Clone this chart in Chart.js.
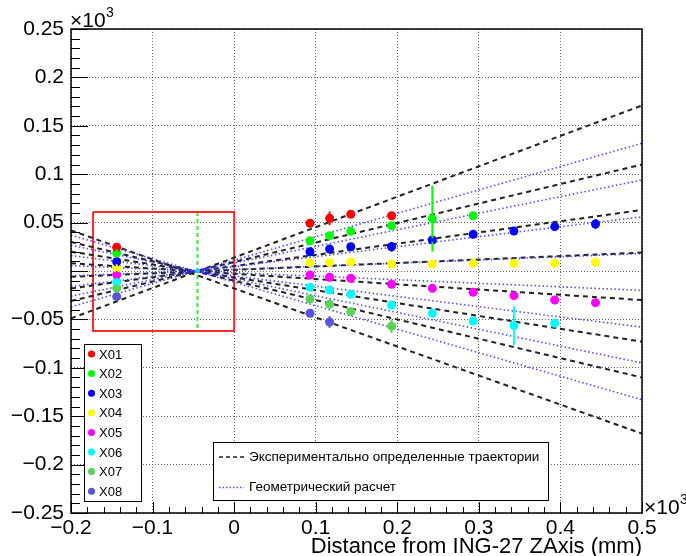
<!DOCTYPE html>
<html>
<head>
<meta charset="utf-8">
<script src="https://cdn.jsdelivr.net/npm/chart.js@4.4.1/dist/chart.umd.min.js"></script>
<style>
  html, body { margin: 0; background: #fff; }
  #wrap { width: 686px; height: 556px; }
</style>
</head>
<body>
<div id="wrap"><canvas id="chart"></canvas></div>
<script>
// --- data (y in units of x10^3 mm) ---
const xTicks = [-0.2, -0.1, 0, 0.1, 0.2, 0.3, 0.4, 0.5];
const xTickLabels = ['\u22120.2', '\u22120.1', '0', '0.1', '0.2', '0.3', '0.4', '0.5'];
const yTicks = [-0.25, -0.2, -0.15, -0.1, -0.05, 0, 0.05, 0.1, 0.15, 0.2, 0.25];
const yTickLabels = ['\u22120.25', '\u22120.2', '\u22120.15', '\u22120.1', '\u22120.05', '', '0.05', '0.1', '0.15', '0.2', '0.25'];

const detNames  = ['X01', 'X02', 'X03', 'X04', 'X05', 'X06', 'X07', 'X08'];
const detColors = ['#ff0000', '#00ff00', '#0000ff', '#ffff00', '#ff00ff', '#00ffff', '#59d454', '#5954d9'];

// measurement positions along the axis
const colX = [-0.144, 0.093, 0.117, 0.143, 0.193, 0.243, 0.293, 0.343, 0.393, 0.443];

const x01 = [0.0245, 0.0493, 0.0544, 0.0586, 0.0571, null, null, null, null, null];
const x02 = [0.0186, 0.0313, 0.0365, 0.0410, 0.0468, 0.0540, 0.0571, null, null, null];
const x03 = [0.0096, 0.0199, 0.0227, 0.0251, 0.0251, 0.0320, 0.0379, 0.0413, 0.0458, 0.0486];
const x04 = [0.0030, 0.0086, 0.0086, 0.0093, 0.0072, 0.0072, 0.0079, 0.0079, 0.0079, 0.0090];
const x05 = [-0.0040, -0.0041, -0.0065, -0.0075, -0.0137, -0.0179, -0.0220, -0.0255, -0.0300, -0.0327];
const x06 = [-0.0110, -0.0169, -0.0196, -0.0241, -0.0351, -0.0437, -0.0517, -0.0565, -0.0540, null];
const x07 = [-0.0176, -0.0289, -0.0344, -0.0420, -0.0570, null, null, null, null, null];
const x08 = [-0.0265, -0.0437, -0.0527, null, null, null, null, null, null, null];

const x01Err = [0.004, 0.004, 0.007, 0.002, 0.002, 0, 0, 0, 0, 0];
const x02Err = [0.004, 0.002, 0.002, 0.002, 0.002, 0.034, 0.002, 0, 0, 0];
const x03Err = [0.004, 0.002, 0.002, 0.002, 0.005, 0.002, 0.002, 0.002, 0.002, 0.005];
const x04Err = [0.004, 0.002, 0.002, 0.002, 0.002, 0.002, 0.002, 0.002, 0.002, 0.002];
const x05Err = [0.004, 0.002, 0.002, 0.002, 0.002, 0.002, 0.002, 0.002, 0.002, 0.003];
const x06Err = [0.004, 0.002, 0.002, 0.002, 0.002, 0.002, 0.002, 0.020, 0.002, 0];
const x07Err = [0.004, 0.002, 0.002, 0.002, 0.007, 0, 0, 0, 0, 0];
const x08Err = [0.004, 0.003, 0.006, 0, 0, 0, 0, 0, 0, 0];

// trajectory end points at x = -0.2 and x = 0.5
const lineX = [-0.2, 0.5];
const expLeft  = [-0.049, -0.031, -0.018, -0.006, 0.008, 0.020, 0.030, 0.042];
const expRight = [0.171, 0.110, 0.063, 0.019, -0.030, -0.073, -0.110, -0.168];
const geoLeft  = [-0.037, -0.026, -0.016, -0.005, 0.0056, 0.016, 0.0266, 0.037];
const geoRight = [0.132, 0.094, 0.056, 0.018, -0.020, -0.058, -0.095, -0.133];

// focus region
const boxX = [-0.173, 0, 0, -0.173, -0.173];
const boxY = [0.061, 0.061, -0.062, -0.062, 0.061];
const focusX = [-0.045, -0.045];
const focusY = [0.061, -0.062];

const legendLabels = ['\u042d\u043a\u0441\u043f\u0435\u0440\u0438\u043c\u0435\u043d\u0442\u0430\u043b\u044c\u043d\u043e \u043e\u043f\u0440\u0435\u0434\u0435\u043b\u0435\u043d\u043d\u044b\u0435 \u0442\u0440\u0430\u0435\u043a\u0442\u043e\u0440\u0438\u0438',
                      '\u0413\u0435\u043e\u043c\u0435\u0442\u0440\u0438\u0447\u0435\u0441\u043a\u0438\u0439 \u0440\u0430\u0441\u0447\u0435\u0442'];
const xTitle = 'Distance from ING-27 ZAxis (mm)';

// --- build datasets ---
const FONT = '"Liberation Sans", Arial, Helvetica, sans-serif';
const detY = [x01, x02, x03, x04, x05, x06, x07, x08];
const detErr = [x01Err, x02Err, x03Err, x04Err, x05Err, x06Err, x07Err, x08Err];

const datasets = [];

detNames.forEach((name, d) => {
  const pts = [];
  const errs = [];
  colX.forEach((x, i) => {
    if (detY[d][i] === null) return;
    pts.push({ x, y: detY[d][i] });
    errs.push(detErr[d][i]);
  });
  datasets.push({
    label: name, data: pts, errs, showLine: false,
    pointRadius: 4.5, pointHoverRadius: 4.5, pointBorderWidth: 0,
    backgroundColor: detColors[d], borderColor: detColors[d], order: 0
  });
});

// small point at the focus
datasets.push({
  label: 'focus', data: [{ x: -0.045, y: 0 }], showLine: false,
  pointRadius: 2.5, pointBorderWidth: 0, backgroundColor: '#22ccee', order: 0
});

expLeft.forEach((yl, i) => {
  datasets.push({
    label: 'exp' + i, data: [{ x: lineX[0], y: yl }, { x: lineX[1], y: expRight[i] }],
    showLine: true, pointRadius: 0, borderColor: '#222', borderWidth: 2,
    borderDash: [5, 4], order: 2
  });
});
geoLeft.forEach((yl, i) => {
  datasets.push({
    label: 'geo' + i, data: [{ x: lineX[0], y: yl }, { x: lineX[1], y: geoRight[i] }],
    showLine: true, pointRadius: 0, borderColor: 'rgba(50,50,255,0.85)', borderWidth: 1.6,
    borderDash: [1.5, 2.5], order: 1
  });
});

datasets.push({
  label: 'box', data: boxX.map((x, i) => ({ x, y: boxY[i] })),
  showLine: true, pointRadius: 0, borderColor: '#ff2a2a', borderWidth: 2, order: 3
});
datasets.push({
  label: 'focusLine', data: focusX.map((x, i) => ({ x, y: focusY[i] })),
  showLine: true, pointRadius: 0, borderColor: '#33ee33', borderWidth: 2,
  borderDash: [4, 3], order: 3
});

// --- plugins: error bars, ROOT-like frame, ticks, legends ---
const errorBars = {
  id: 'errorBars',
  afterDatasetsDraw(chart) {
    const { ctx, scales: { x, y } } = chart;
    ctx.save();
    chart.data.datasets.forEach(ds => {
      if (!ds.errs) return;
      ctx.strokeStyle = ds.backgroundColor;
      ctx.lineWidth = 2;
      ds.data.forEach((p, i) => {
        const e = ds.errs[i];
        if (!e) return;
        const px = x.getPixelForValue(p.x);
        ctx.beginPath();
        ctx.moveTo(px, y.getPixelForValue(p.y - e));
        ctx.lineTo(px, y.getPixelForValue(p.y + e));
        ctx.stroke();
      });
    });
    ctx.restore();
  }
};

const rootFrame = {
  id: 'rootFrame',
  afterDraw(chart) {
    const { ctx, chartArea: a, scales: { x, y } } = chart;
    ctx.save();
    // frame
    ctx.strokeStyle = '#000';
    ctx.lineWidth = 1.5;
    ctx.strokeRect(a.left, a.top, a.right - a.left, a.bottom - a.top);

    // inner ticks
    ctx.lineWidth = 1;
    ctx.beginPath();
    for (let k = 0; k <= 50; k++) {
      const v = -0.25 + k * 0.01;
      const py = Math.round(y.getPixelForValue(v)) + 0.5;
      const len = k % 5 === 0 ? 17 : 9;
      ctx.moveTo(a.left, py);
      ctx.lineTo(a.left + len, py);
    }
    for (let k = 0; k <= 35; k++) {
      const v = -0.2 + k * 0.02;
      const px = Math.round(x.getPixelForValue(v)) + 0.5;
      const len = k % 5 === 0 ? 11 : 6;
      ctx.moveTo(px, a.bottom);
      ctx.lineTo(px, a.bottom - len);
    }
    ctx.stroke();

    // x10^3 labels
    ctx.fillStyle = '#000';
    ctx.textBaseline = 'alphabetic';
    ctx.textAlign = 'left';
    ctx.font = '21px ' + FONT;
    ctx.fillText('\u00d710', a.left - 1, 27);
    ctx.font = '14px ' + FONT;
    ctx.fillText('3', a.left + 35, 17);
    ctx.font = '21px ' + FONT;
    ctx.fillText('\u00d710', a.right + 2, 514);
    ctx.font = '14px ' + FONT;
    ctx.fillText('3', a.right + 38, 504);

    // detector legend
    ctx.fillStyle = '#fff';
    ctx.fillRect(84, 344, 58, 158);
    ctx.strokeStyle = '#000';
    ctx.lineWidth = 1;
    ctx.strokeRect(84.5, 344.5, 57, 157);
    ctx.font = '13px ' + FONT;
    ctx.textBaseline = 'middle';
    detNames.forEach((name, i) => {
      const cy = 354 + i * 19.6;
      ctx.fillStyle = detColors[i];
      ctx.beginPath();
      ctx.arc(91.5, cy, 3.5, 0, Math.PI * 2);
      ctx.fill();
      ctx.fillStyle = '#000';
      ctx.fillText(name, 99, cy + 1);
    });

    // line legend
    ctx.fillStyle = '#fff';
    ctx.fillRect(213, 442, 336, 59);
    ctx.strokeStyle = '#000';
    ctx.strokeRect(213.5, 442.5, 335, 58);
    ctx.lineWidth = 1.6;
    ctx.strokeStyle = '#222';
    ctx.setLineDash([4, 3]);
    ctx.beginPath(); ctx.moveTo(219, 457); ctx.lineTo(244, 457); ctx.stroke();
    ctx.strokeStyle = 'rgba(50,50,255,0.85)';
    ctx.setLineDash([1.5, 2]);
    ctx.beginPath(); ctx.moveTo(219, 487.5); ctx.lineTo(244, 487.5); ctx.stroke();
    ctx.setLineDash([]);
    ctx.fillStyle = '#000';
    ctx.font = '13.5px ' + FONT;
    ctx.fillText(legendLabels[0], 249, 457);
    ctx.fillText(legendLabels[1], 249, 487.5);
    ctx.restore();
  }
};

new Chart(document.getElementById('chart'), {
  type: 'scatter',
  data: { datasets },
  options: {
    responsive: true,
    maintainAspectRatio: false,
    animation: false,
    layout: { padding: { left: 0, right: 44, top: 29, bottom: 0 } },
    plugins: { legend: { display: false }, tooltip: { enabled: false } },
    scales: {
      x: {
        type: 'linear', min: -0.2, max: 0.5,
        afterFit: s => { s.height = 43; },
        afterBuildTicks: s => { s.ticks = xTicks.map(v => ({ value: v })); },
        ticks: {
          padding: 5, color: '#000', font: { family: FONT, size: 21, lineHeight: 1 },
          maxRotation: 0, autoSkip: false,
          callback: (v, i) => xTickLabels[i]
        },
        grid: { color: '#666', lineWidth: 1, drawTicks: false },
        border: { display: false, dash: [1, 2] },
        title: {
          display: true, text: xTitle, align: 'end', color: '#000',
          font: { family: FONT, size: 22, lineHeight: 1 }, padding: { top: 0, bottom: -2 }
        }
      },
      y: {
        type: 'linear', min: -0.25, max: 0.25,
        afterFit: s => { s.width = 71; },
        afterBuildTicks: s => { s.ticks = yTicks.map(v => ({ value: v })); },
        ticks: {
          padding: 7, color: '#000', font: { family: FONT, size: 21 },
          autoSkip: false,
          callback: (v, i) => yTickLabels[i]
        },
        grid: { color: '#666', lineWidth: 1, drawTicks: false },
        border: { display: false, dash: [1, 2] }
      }
    }
  },
  plugins: [errorBars, rootFrame]
});
</script>
</body>
</html>
